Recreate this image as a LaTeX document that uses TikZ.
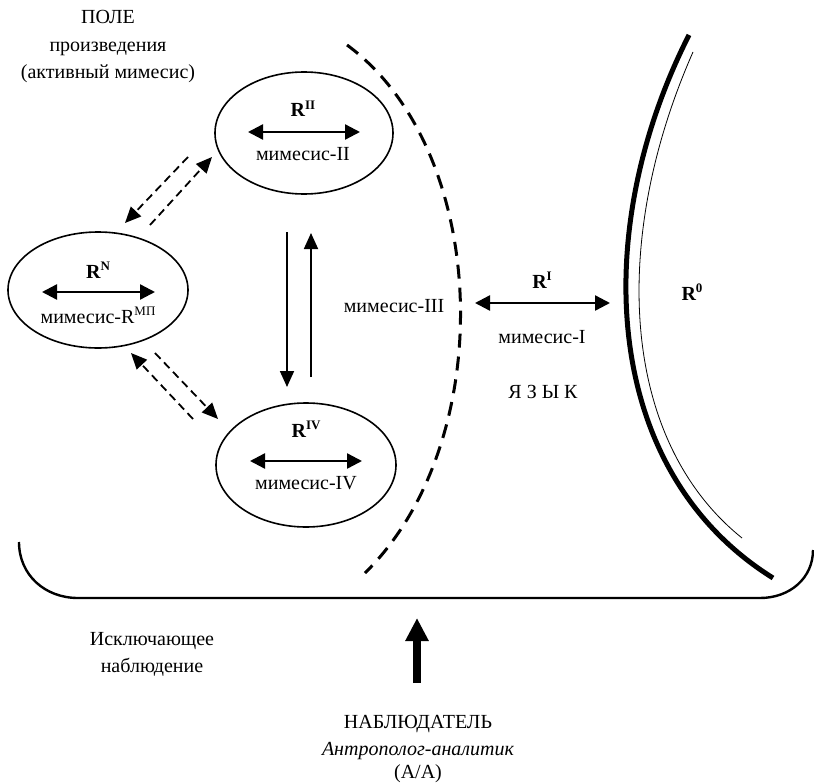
\documentclass[tikz,border=0pt]{standalone}
\usepackage{fontspec}
\setmainfont{Liberation Serif}
\usetikzlibrary{arrows.meta,shapes.geometric}
\newcommand{\rsup}[1]{\raisebox{0.4em}{\fontsize{13}{13}\selectfont #1}}
\begin{document}
\begin{tikzpicture}[x=1pt,y=-1pt,
    lbl/.style={anchor=base, inner sep=0pt, font=\fontsize{20}{24}\selectfont},
    mim/.style={ellipse, draw, line width=1.6pt, inner sep=0pt},
    dbl/.style={{Triangle[length=15pt,width=15pt]}-{Triangle[length=15pt,width=15pt]}, line width=2.4pt},
    vert/.style={-{Triangle[length=16pt,width=14pt]}, line width=1.8pt},
    dsh/.style={-{Triangle[length=16pt,width=14pt]}, line width=1.8pt, dash pattern=on 8pt off 5pt}]
            \useasboundingbox (0,0) rectangle (814,784);

            \node (pole) at (108,24) [lbl] {ПОЛЕ};
            \node (proizv) at (108,52) [lbl] {произведения};
            \node (aktiv) at (108,78) [lbl] {(активный мимесис)};

            \node (eN) at (98,290) [mim, minimum width=180pt, minimum height=116pt] {};
            \node (eII) at (304,133) [mim, minimum width=178pt, minimum height=122pt] {};
            \node (eIV) at (306,465) [mim, minimum width=180pt, minimum height=124pt] {};

            \node (rN) at (98,278) [lbl] {\textbf{R\rsup{N}}};
            \node (mN) at (98,323) [lbl] {мимесис-R\rsup{МП}};
            \node (rII) at (303,117) [lbl] {\textbf{R\rsup{II}}};
            \node (mII) at (303,160) [lbl] {мимесис-II};
            \node (rIV) at (306,437) [lbl] {\textbf{R\rsup{IV}}};
            \node (mIV) at (306,489) [lbl] {мимесис-IV};

            \coordinate (nL) at (42,292);   \coordinate (nR) at (155,292);
            \coordinate (iiL) at (248,132); \coordinate (iiR) at (360,132);
            \coordinate (ivL) at (250,461); \coordinate (ivR) at (362,461);
            \draw[dbl] (nL) -- (nR);
            \draw[dbl] (iiL) -- (iiR);
            \draw[dbl] (ivL) -- (ivR);

            % arrows between II and IV
            \coordinate (dnT) at (287,232); \coordinate (dnB) at (287,387);
            \coordinate (upB) at (311,377); \coordinate (upT) at (311,233);
            \draw[vert] (dnT) -- (dnB);
            \draw[vert] (upB) -- (upT);

            % dashed arrows from N
            \coordinate (a1) at (188,157); \coordinate (a2) at (125,223);
            \coordinate (b1) at (150,225); \coordinate (b2) at (212,157);
            \coordinate (c1) at (193,419); \coordinate (c2) at (131,353);
            \coordinate (d1) at (155,353); \coordinate (d2) at (218,419);
            \draw[dsh] (a1) -- (a2);
            \draw[dsh] (b1) -- (b2);
            \draw[dsh] (c1) -- (c2);
            \draw[dsh] (d1) -- (d2);

            % border of the field
            \coordinate (arcT) at (347,45); \coordinate (arcB) at (365,573);
            \draw[line width=3pt, dash pattern=on 14pt off 9pt] (arcT) .. controls (490,150) and (500,440) .. (arcB);
            \node (mIII) at (394,312) [lbl] {мимесис-III};

            \coordinate (rIl) at (475,303); \coordinate (rIr) at (610,303);
            \draw[dbl] (rIl) -- (rIr);
            \node (rI) at (542,288) [lbl] {\textbf{R\rsup{I}}};
            \node (mI) at (542,343) [lbl] {мимесис-I};
            \node (yaz) at (543,398) [lbl] {Я З Ы К};

            % R0
            \coordinate (zT) at (689,35); \coordinate (zB) at (773,578);
            \draw[line width=5pt] (zT) .. controls (590,230) and (600,470) .. (zB);
            \coordinate (tT) at (693,52); \coordinate (tB) at (742,538);
            \draw[line width=0.8pt] (tT) .. controls (610,240) and (620,440) .. (tB);
            \node (r0) at (692,300) [lbl] {\textbf{R\rsup{0}}};

            % exclusion line
            \coordinate (exL) at (19,542); \coordinate (exR) at (813,550);
            \draw[line width=2.4pt] (exL) .. controls (19,575) and (45,598) .. (78,598) -- (760,598) .. controls (790,598) and (813,578) .. (exR);
            \node (iskl) at (152,645) [lbl] {Исключающее};
            \node (nabl) at (152,672) [lbl] {наблюдение};

            \coordinate (obsB) at (417,683); \coordinate (obsT) at (417,618);
            \draw[line width=8pt, -{Triangle[length=23pt,width=22pt]}] (obsB) -- (obsT);
            \node (obs) at (418,728) [lbl] {НАБЛЮДАТЕЛЬ};
            \node (antr) at (418,755) [lbl] {\itshape Антрополог-аналитик};
            \node (aa) at (418,778) [lbl] {(А/А)};
        \end{tikzpicture}
\end{document}
